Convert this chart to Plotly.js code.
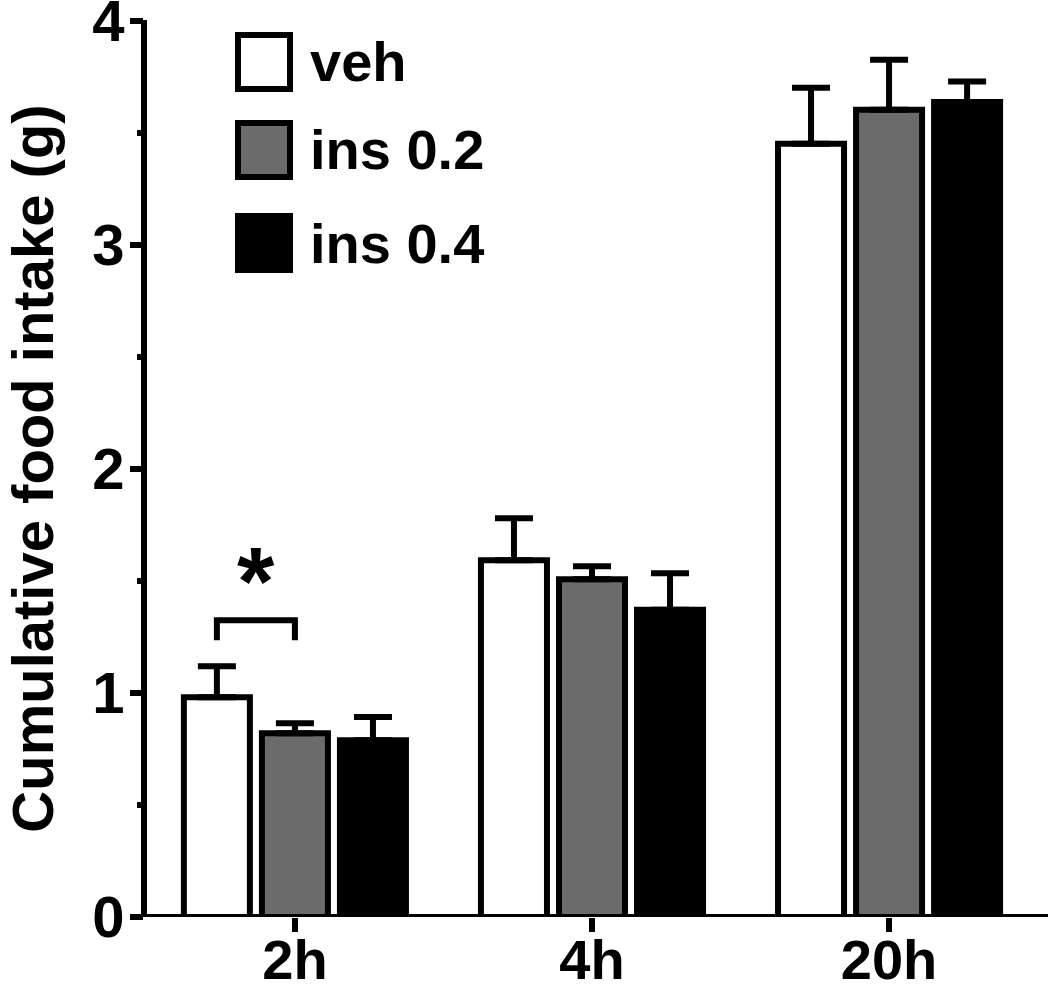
<!DOCTYPE html>
<html>
<head>
<meta charset="utf-8">
<script src="https://cdn.plot.ly/plotly-3.0.1.min.js"></script>
<style>html,body{margin:0;padding:0;background:#fff;}#chart{width:1050px;height:990px;}</style>
</head>
<body>
<div id="chart"></div>
<script>
const categories = ["2h", "4h", "20h"];
const seriesNames = ["veh", "ins 0.2", "ins 0.4"];
const vehValues = [0.981, 1.592, 3.451];
const vehErrors = [0.138, 0.187, 0.250];
const ins02Values = [0.820, 1.507, 3.603];
const ins02Errors = [0.045, 0.058, 0.223];
const ins04Values = [0.789, 1.371, 3.637];
const ins04Errors = [0.103, 0.163, 0.091];
const fillColors = ["#ffffff", "#6b6b6b", "#000000"];
const yTickVals = [0, 1, 2, 3, 4];
const yTickText = ["0", "1", "2", "3", "4"];
const sigLabel = "*";

const W = 1050, H = 990;
const M = {l: 144, r: 2, t: 20, b: 73};
const PW = W - M.l - M.r, PH = H - M.t - M.b;
const px2x = p => (p - M.l) / PW;
const py2y = p => (H - M.b - p) / PH;

const BARGAP = 0.212, GROUPGAP = 0.154;
const FONT = "Liberation Sans, Arial, sans-serif";

const values = [vehValues, ins02Values, ins04Values];
const errors = [vehErrors, ins02Errors, ins04Errors];

const traces = seriesNames.map((name, i) => ({
  type: "bar",
  name: name,
  x: categories,
  y: values[i],
  marker: {color: fillColors[i], line: {color: "#000", width: 6}},
  error_y: {
    type: "data", symmetric: false,
    array: errors[i], arrayminus: errors[i].map(() => 0),
    color: "#000", thickness: 6, width: 19
  },
  showlegend: false,
  hoverinfo: "skip"
}));

// significance bracket between veh and ins 0.2 at 2h (category index 0)
const slot = (1 - BARGAP) / 3;
const bx0 = 0 - slot, bx1 = 0;
const bracketTop = 1.324, bracketBottom = 1.235;

const shapes = [
  {type: "line", xref: "paper", yref: "y", x0: 0, x1: 0, y0: 0, y1: 4.01, line: {color: "#000", width: 6}, layer: "above"},
  {type: "line", xref: "paper", yref: "y", x0: px2x(131), x1: 1, y0: 0, y1: 0, line: {color: "#000", width: 6}, layer: "above"},
  {type: "path", xref: "x", yref: "y",
   path: `M ${bx0} ${bracketBottom} L ${bx0} ${bracketTop} L ${bx1} ${bracketTop} L ${bx1} ${bracketBottom}`,
   line: {color: "#000", width: 6}}
];

const annotations = [
  {xref: "x", yref: "y", x: (bx0 + bx1) / 2, y: 1.50, text: sigLabel, showarrow: false,
   font: {family: FONT, size: 96, color: "#000", weight: "bold"}, xanchor: "center", yanchor: "middle"}
];

const legendTop = [35, 123, 216];
seriesNames.forEach((name, i) => {
  const y0 = legendTop[i], y1 = legendTop[i] + 54;
  shapes.push({type: "rect", xref: "paper", yref: "paper",
    x0: px2x(238), x1: px2x(290), y0: py2y(y1), y1: py2y(y0),
    fillcolor: fillColors[i], line: {color: "#000", width: 6}});
  annotations.push({xref: "paper", yref: "paper", x: px2x(308), y: py2y((y0 + y1) / 2),
    text: name, showarrow: false, xanchor: "left", yanchor: "middle",
    font: {family: FONT, size: 56, color: "#000", weight: "bold"}});
});

const layout = {
  width: W, height: H,
  margin: M,
  paper_bgcolor: "#fff", plot_bgcolor: "#fff",
  barmode: "group", bargap: BARGAP, bargroupgap: GROUPGAP,
  showlegend: false,
  xaxis: {
    type: "category", range: [-0.508, 2.535],
    showline: false, showgrid: false, zeroline: false,
    ticks: "outside", ticklen: 14, tickwidth: 6, tickcolor: "#000",
    tickfont: {family: FONT, size: 56, color: "#000", weight: "bold"},
    ticklabelstandoff: -20, ticklabeloverflow: "allow"
  },
  yaxis: {
    range: [0, 4.003], showline: false, showgrid: false, zeroline: false,
    tickvals: yTickVals, ticktext: yTickText,
    ticks: "outside", ticklen: 13, tickwidth: 6, tickcolor: "#000",
    minor: {dtick: 0.5, tick0: 0, ticks: "outside", ticklen: 6, tickwidth: 6, tickcolor: "#000"},
    tickfont: {family: FONT, size: 58, color: "#000", weight: "bold"},
    ticklabelstandoff: -6, ticklabeloverflow: "allow",
    title: {text: "Cumulative food intake (g)", font: {family: FONT, size: 58, color: "#000", weight: "bold"}, standoff: 34}
  },
  shapes: shapes,
  annotations: annotations
};

Plotly.newPlot("chart", traces, layout, {staticPlot: true, displayModeBar: false});
</script>
</body>
</html>
